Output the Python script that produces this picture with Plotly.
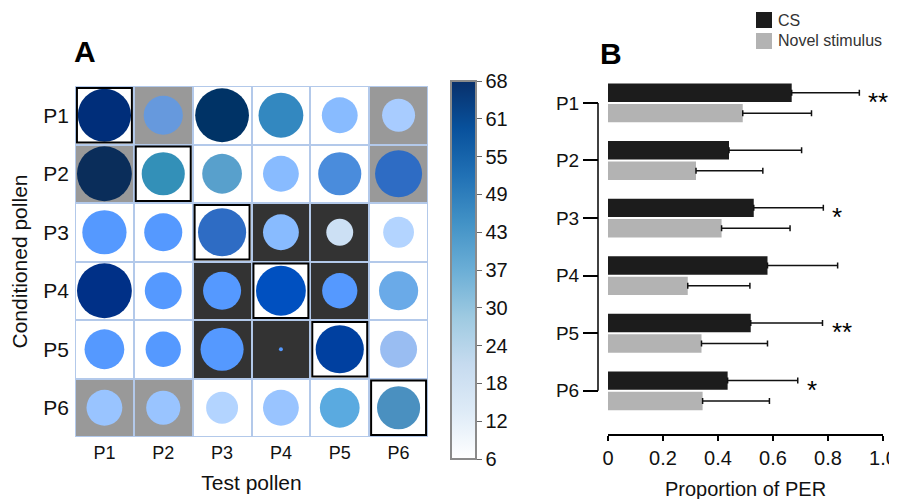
import math
import plotly.graph_objects as go

FONT = "Liberation Sans, Arial, sans-serif"
W, H = 897, 499
OFF = 8  # page offset of the figure inside the browser window


def px(x):
    return (x - OFF) / W


def py(y):
    return 1 - (y - OFF) / H


pollen = ["P1", "P2", "P3", "P4", "P5", "P6"]

# ---------------- Panel A data (rows = conditioned pollen, cols = test pollen)
cell_group = [  # 0 = white, 1 = grey, 2 = dark background
    [0, 1, 0, 0, 0, 1],
    [1, 0, 0, 0, 0, 1],
    [0, 0, 0, 2, 2, 0],
    [0, 0, 2, 0, 2, 0],
    [0, 0, 2, 2, 0, 0],
    [1, 1, 0, 0, 0, 0],
]
bubble_size = [
    [95, 70, 96, 80, 64, 59],
    [98, 77, 71, 64, 77, 84],
    [79, 68, 86, 64, 48, 55],
    [98, 66, 68, 89, 63, 70],
    [71, 63, 77, 7, 86, 66],
    [64, 61, 57, 64, 71, 77],
]
bubble_shade = [
    [64, 41, 66, 50, 34, 27],
    [68, 49, 42, 34, 46, 54],
    [44, 44, 54, 34, 20, 25],
    [63, 44, 44, 57, 44, 38],
    [44, 44, 44, 44, 60, 32],
    [30, 30, 25, 30, 40, 47],
]
cbar_min, cbar_max = 6, 68

# ---------------- Panel B data
cs_mean = [0.668, 0.440, 0.530, 0.580, 0.519, 0.435]
cs_err = [0.246, 0.264, 0.253, 0.255, 0.261, 0.255]
novel_mean = [0.490, 0.320, 0.413, 0.290, 0.340, 0.344]
novel_err = [0.250, 0.243, 0.249, 0.226, 0.240, 0.243]
significance = ["**", "", "*", "", "**", "*"]
x_ticks = [0, 0.2, 0.4, 0.6, 0.8, 1.0]
x_ticktext = ["0", "0.2", "0.4", "0.6", "0.8", "1.0"]

# ---------------- colour scales
blues = [[0.0, "#ffffff"], [0.125, "#deebf7"], [0.25, "#c6dbef"], [0.375, "#9ecae1"],
         [0.5, "#6baed6"], [0.625, "#4292c6"], [0.75, "#2171b5"], [0.875, "#08519c"],
         [1.0, "#08306b"]]
shade_stops = [
    (6, "#ffffff"), (20, "#cce0f4"), (25, "#b3d4ff"), (27, "#a8ccff"), (30, "#99c4ff"),
    (32, "#99bdf2"), (34, "#88bbff"), (38, "#6aaae8"), (40, "#5aaae0"), (41, "#6699dd"),
    (42, "#58a0cc"), (44, "#5599ff"), (46, "#4a8cdc"), (47, "#4a90c0"), (49, "#3390b8"),
    (50, "#3388c0"), (54, "#2e6cc4"), (57, "#0050c0"), (60, "#0040a0"), (63, "#003087"),
    (64, "#002e7a"), (66, "#003366"), (68, "#0a2d5a"),
]
bubble_scale = [[(v - cbar_min) / (cbar_max - cbar_min), c] for v, c in shade_stops]

fig = go.Figure()

# background cells
fig.add_trace(go.Heatmap(
    z=cell_group, x=pollen, y=pollen, zmin=0, zmax=2,
    colorscale=[[0, "#ffffff"], [0.5, "#999999"], [1, "#333333"]],
    showscale=False, xgap=2, ygap=2, hoverinfo="skip", xaxis="x", yaxis="y"))

# bubbles
bx, by, bs, bc = [], [], [], []
for r, cond in enumerate(pollen):
    for c, test in enumerate(pollen):
        bx.append(test)
        by.append(cond)
        bs.append(bubble_size[r][c])
        bc.append(bubble_shade[r][c])
fig.add_trace(go.Scatter(
    x=bx, y=by, mode="markers", xaxis="x", yaxis="y", showlegend=False,
    marker=dict(size=bs, sizemode="diameter", sizeref=1 / 0.56, color=bc,
                cmin=cbar_min, cmax=cbar_max, colorscale=bubble_scale,
                line=dict(width=0), opacity=1),
    hoverinfo="skip"))

# colour bar
cb_ticks = [cbar_min + k * (cbar_max - cbar_min) / 10 for k in range(11)]
fig.add_trace(go.Scatter(
    x=[pollen[0]], y=[pollen[0]], mode="markers", xaxis="x", yaxis="y",
    showlegend=False, hoverinfo="skip",
    marker=dict(size=1, opacity=0, color=[cbar_min], cmin=cbar_min, cmax=cbar_max,
                colorscale=blues, showscale=True,
                colorbar=dict(x=px(451), xanchor="left", xpad=0, ypad=0,
                              y=py(270), yanchor="middle", len=378 / H,
                              lenmode="fraction", thickness=25,
                              outlinecolor="#8a8a8a", outlinewidth=2,
                              ticks="outside", ticklen=5, tickcolor="#666",
                              tickvals=cb_ticks,
                              ticktext=[str(math.floor(t + 1e-9)) for t in cb_ticks],
                              tickfont=dict(size=20, color="#111", family=FONT)))))

# bars
fig.add_trace(go.Bar(
    y=pollen, x=cs_mean, orientation="h", name="CS", marker_color="#1c1c1c",
    marker_line_width=0, xaxis="x2", yaxis="y2", showlegend=False,
    error_x=dict(type="data", symmetric=False, array=cs_err, arrayminus=[0] * 6,
                 color="#111", thickness=1.5, width=3)))
fig.add_trace(go.Bar(
    y=pollen, x=novel_mean, orientation="h", name="Novel stimulus",
    marker_color="#b3b3b3", marker_line_width=0, xaxis="x2", yaxis="y2",
    showlegend=False,
    error_x=dict(type="data", symmetric=False, array=novel_err, arrayminus=[0] * 6,
                 color="#111", thickness=1.5, width=3)))

shapes = [
    dict(type="rect", xref="x", yref="y", x0=-0.5, x1=5.5, y0=-0.5, y1=5.5,
         fillcolor="#b3c9ea", line=dict(color="#b3c9ea", width=2), layer="below"),
]
for i in range(len(pollen)):
    shapes.append(dict(type="rect", xref="x", yref="y", x0=i - 0.467, x1=i + 0.467,
                       y0=i - 0.467, y1=i + 0.467, line=dict(color="black", width=2),
                       layer="above"))
# bracket-style y axis line for panel B
shapes.append(dict(type="line", xref="paper", yref="y2", x0=px(598), x1=px(598),
                   y0=0, y1=len(pollen) - 1, line=dict(color="black", width=1.5)))
# legend swatches
shapes.append(dict(type="rect", xref="paper", yref="paper", x0=px(756), x1=px(772),
                   y0=py(28), y1=py(12), fillcolor="#1c1c1c", line=dict(width=0)))
shapes.append(dict(type="rect", xref="paper", yref="paper", x0=px(756), x1=px(772),
                   y0=py(49), y1=py(33), fillcolor="#b3b3b3", line=dict(width=0)))

annotations = [
    dict(text="<b>A</b>", x=px(85), y=py(52), xref="paper", yref="paper",
         xanchor="center", yanchor="middle",
         showarrow=False, font=dict(size=30, color="black", family=FONT)),
    dict(text="<b>B</b>", x=px(611), y=py(54), xref="paper", yref="paper",
         xanchor="center", yanchor="middle",
         showarrow=False, font=dict(size=30, color="black", family=FONT)),
    dict(text="CS", x=px(776), y=py(20), xref="paper", yref="paper",
         xanchor="left", yanchor="middle", showarrow=False,
         font=dict(size=16, color="#333", family=FONT)),
    dict(text="Novel stimulus", x=px(776), y=py(41), xref="paper", yref="paper",
         xanchor="left", yanchor="middle", showarrow=False,
         font=dict(size=16, color="#333", family=FONT)),
]
for i, s in enumerate(significance):
    if s:
        annotations.append(dict(text=s, x=cs_mean[i] + cs_err[i], y=pollen[i],
                                xref="x2", yref="y2", xanchor="left", yanchor="middle",
                                xshift=7, yshift=1, showarrow=False,
                                font=dict(size=26, color="black", family=FONT)))

fig.update_layout(
    template="none",
    width=W, height=H, margin=dict(l=0, r=0, t=0, b=0, autoexpand=False),
    paper_bgcolor="white", plot_bgcolor="white",
    font=dict(family=FONT, color="#111"),
    barmode="group", bargap=0.29, bargroupgap=0.1,
    shapes=shapes, annotations=annotations,
    xaxis=dict(domain=[px(75), px(428)], anchor="y", type="category",
               categoryorder="array", categoryarray=pollen, range=[-0.5, 5.5],
               automargin=False,
               showgrid=False, zeroline=False, showline=False, ticks="",
               ticklabelstandoff=3,
               tickfont=dict(size=18, family=FONT),
               title=dict(text="Test pollen", font=dict(size=21, family=FONT), standoff=13)),
    yaxis=dict(domain=[py(437), py(86)], anchor="x", type="category",
               categoryorder="array", categoryarray=pollen, range=[5.5, -0.5],
               automargin=False,
               showgrid=False, zeroline=False, showline=False, ticks="",
               ticklabelstandoff=5,
               tickfont=dict(size=21, family=FONT),
               title=dict(text="Conditioned pollen", font=dict(size=21, family=FONT),
                          standoff=18)),
    xaxis2=dict(domain=[px(608), px(883)], anchor="y2", range=[0, 1],
                automargin=False,
                showgrid=False, zeroline=False, showline=True, linecolor="black",
                linewidth=1.5, ticks="outside", ticklen=5, tickwidth=1.5,
                tickcolor="black", tickvals=x_ticks, ticktext=x_ticktext,
                tickfont=dict(size=20, family=FONT),
                title=dict(text="Proportion of PER", font=dict(size=20, family=FONT),
                           standoff=14)),
    yaxis2=dict(domain=[py(434), py(77)], anchor="free", position=px(598),
                automargin=False,
                type="category", categoryorder="array", categoryarray=pollen,
                range=[5.75, -0.45], showgrid=False, zeroline=False, showline=False,
                ticks="outside", ticklen=15, tickwidth=1.5, tickcolor="black",
                tickfont=dict(size=19, family=FONT)),
)

fig.write_html("out.html")
